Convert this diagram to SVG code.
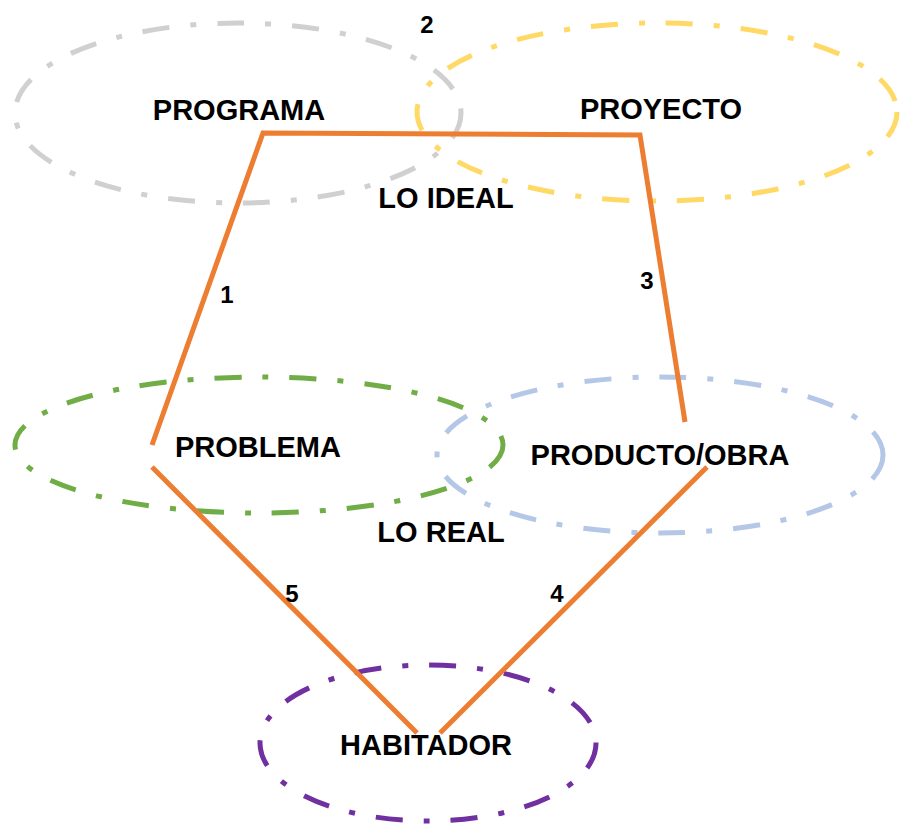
<svg xmlns="http://www.w3.org/2000/svg" width="900" height="825" viewBox="0 0 900 825">
<style>
.ell{fill:none;stroke-width:5;stroke-dasharray:27 21 6 21}
.lbl{font-family:"Liberation Sans",Arial,sans-serif;font-weight:bold;font-size:29px;fill:#000;text-anchor:middle}
.num{font-family:"Liberation Sans",Arial,sans-serif;font-weight:bold;font-size:24px;fill:#000;text-anchor:middle}
.con{fill:none;stroke:#ed7d31;stroke-width:5;stroke-linejoin:miter}
</style>
<rect width="900" height="825" fill="#fff"/>
<g id="programa">
<ellipse class="ell" cx="238" cy="113" rx="223" ry="90" stroke="#d0d0d0"/>
<text class="lbl" x="239" y="120">PROGRAMA</text>
</g>
<g id="proyecto">
<ellipse class="ell" cx="657" cy="112" rx="240" ry="89" stroke="#ffd966"/>
<text class="lbl" x="661" y="119">PROYECTO</text>
</g>
<g id="producto">
<ellipse class="ell" cx="660" cy="455" rx="223" ry="78" stroke="#b4c7e7"/>
<text class="lbl" x="660" y="465">PRODUCTO/OBRA</text>
</g>
<g id="problema">
<ellipse class="ell" cx="259" cy="445" rx="244" ry="68" stroke="#70ad47"/>
<text class="lbl" x="258" y="457">PROBLEMA</text>
</g>
<g id="habitador">
<ellipse class="ell" cx="428" cy="743" rx="168" ry="78" stroke="#7030a0"/>
<text class="lbl" x="426" y="755">HABITADOR</text>
</g>
<g id="connectors">
<polyline class="con" points="152,445 263,133 640,135 685,422"/>
<line class="con" x1="152" y1="467" x2="417" y2="733"/>
<line class="con" x1="440" y1="733" x2="707" y2="467"/>
</g>
<g id="labels">
<text class="num" x="427" y="33">2</text>
<text class="num" x="227" y="303">1</text>
<text class="num" x="647" y="289">3</text>
<text class="num" x="292" y="602">5</text>
<text class="num" x="557" y="602">4</text>
<text class="lbl" x="446" y="208">LO IDEAL</text>
<text class="lbl" x="441" y="542">LO REAL</text>
</g>
</svg>
